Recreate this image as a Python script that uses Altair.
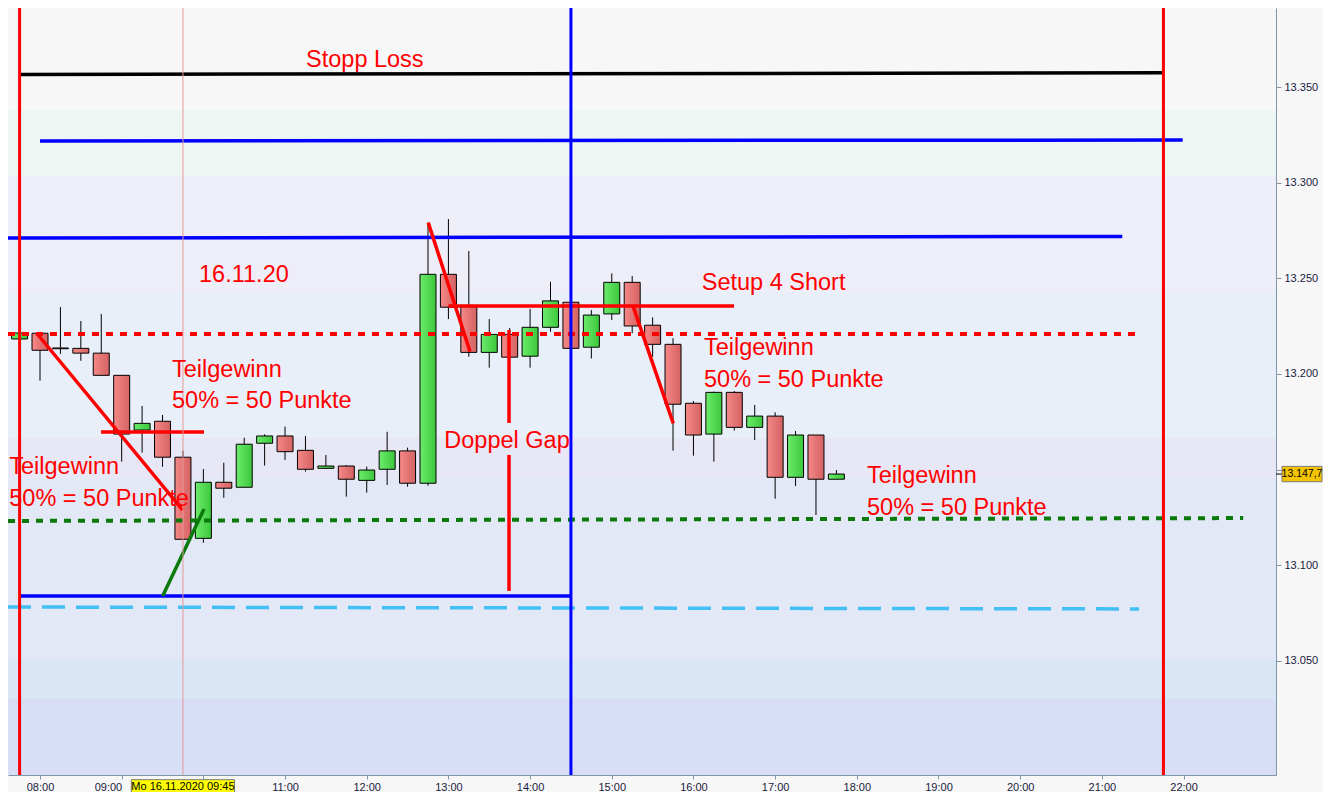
import altair as alt
import pandas as pd

# ---------------- data ----------------
times = ["07:30", "07:45", "08:00", "08:15", "08:30", "08:45", "09:00", "09:15", "09:30", "09:45",
         "10:00", "10:15", "10:30", "10:45", "11:00", "11:15", "11:30", "11:45", "12:00", "12:15",
         "12:30", "12:45", "13:00", "13:15", "13:30", "13:45", "14:00", "14:15", "14:30", "14:45",
         "15:00", "15:15", "15:30", "15:45", "16:00", "16:15", "16:30", "16:45", "17:00", "17:15",
         "17:30", "17:45"]
opens = [13221.4, 13218.3, 13221.3, 13213.6, 13213.4, 13210.9, 13199.3, 13170.7, 13175.3, 13156.5,
         13114.1, 13143.4, 13140.8, 13163.8, 13167.6, 13160.1, 13150.7, 13151.9, 13144.4, 13150.2,
         13159.8, 13142.9, 13252.1, 13235.2, 13211.3, 13220.7, 13209.3, 13224.4, 13237.5, 13214.0,
         13231.4, 13247.9, 13225.5, 13215.5, 13184.7, 13168.6, 13190.4, 13172.1, 13178.0, 13146.0,
         13168.1, 13145.0]
highs = [13222.0, 13222.0, 13222.0, 13235.0, 13227.7, 13231.4, 13199.3, 13183.3, 13178.6, 13159.9,
         13150.3, 13153.6, 13166.7, 13168.5, 13172.5, 13167.6, 13157.7, 13152.4, 13151.6, 13169.8,
         13161.5, 13279.1, 13281.0, 13264.3, 13228.7, 13224.0, 13234.0, 13248.2, 13239.0, 13233.4,
         13252.6, 13251.2, 13229.6, 13218.7, 13185.9, 13190.8, 13191.1, 13183.8, 13180.0, 13170.2,
         13168.1, 13149.8]
lows = [13218.0, 13218.0, 13196.5, 13210.5, 13206.9, 13199.3, 13154.2, 13158.9, 13151.5, 13113.6,
        13111.8, 13135.3, 13140.8, 13152.1, 13155.0, 13149.0, 13150.5, 13135.9, 13138.0, 13142.0,
        13141.1, 13141.6, 13228.7, 13209.0, 13203.3, 13205.0, 13203.3, 13222.1, 13212.0, 13208.1,
        13228.2, 13221.3, 13209.0, 13159.9, 13157.3, 13154.2, 13170.4, 13165.5, 13134.8, 13141.5,
        13126.3, 13145.0]
closes = [13218.3, 13221.4, 13212.4, 13213.2, 13210.9, 13199.3, 13168.6, 13174.2, 13156.5, 13113.6,
          13143.4, 13140.3, 13163.3, 13167.6, 13159.4, 13150.2, 13151.9, 13145.0, 13149.8, 13159.8,
          13142.9, 13252.1, 13234.9, 13211.3, 13220.7, 13208.8, 13224.4, 13238.2, 13213.4, 13230.8,
          13247.9, 13225.1, 13215.5, 13184.2, 13168.1, 13190.4, 13172.1, 13178.0, 13146.0, 13168.1,
          13145.0, 13147.7]

hour_ticks = list(range(8, 23))
price_ticks = [13050, 13100, 13150, 13200, 13250, 13300, 13350]
last_price = 13147.7
last_label = "13.147,7"
cross_time = 9.75
cross_label = "Mo 16.11.2020 09:45"

# background bands (price boundaries, top to bottom)
band_top = [13391.3, 13338.0, 13303.5, 13242.9, 13166.5, 13145.6, 13050.5, 13030.1]
band_bottom = [13338.0, 13303.5, 13242.9, 13166.5, 13145.6, 13050.5, 13030.1, 12990.4]
band_colors = ["#f7f7f7", "#eef6f4", "#eeeef8", "#e9eff8", "#e8e7f6", "#e2e8f6", "#d8e6f6", "#d7def5"]

XMIN, XMAX = 7.6082, 23.132
YMIN, YMAX = 12990.4, 13391.3

# line segments [t1, p1, t2, p2]
black_segs = [[7.75, 13356.6, 21.75, 13357.4]]
blue_segs = [[8.0, 13321.8, 21.99, 13322.3],
             [XMIN, 13271.1, 21.25, 13271.9],
             [7.75, 13084.0, 14.5, 13084.0]]
red_segs = [[13.0, 13235.5, 16.497, 13235.5],
            [8.747, 13169.7, 10.008, 13169.7],
            [7.96, 13221.3, 9.747, 13128.9],
            [12.753, 13279.1, 13.265, 13211.7],
            [15.256, 13236.0, 15.753, 13174.2],
            [13.742, 13223.0, 13.742, 13174.4],
            [13.742, 13157.7, 13.742, 13086.6]]
green_segs = [[9.502, 13084.0, 10.008, 13129.4]]
red_dotted_segs = [[XMIN, 13220.9, 21.49, 13220.9]]
green_dotted_segs = [[XMIN, 13123.2, 22.73, 13124.7]]
lightblue_dashed_segs = [[XMIN, 13078.2, 21.455, 13077.2]]

red_verticals = [7.75, 21.754]
blue_verticals = [14.5]

# annotations: text, time (left edge), price (baseline)
note_text = ["Stopp Loss", "16.11.20", "Setup 4 Short",
             "Teilgewinn", "50% = 50 Punkte",
             "Teilgewinn", "50% = 50 Punkte",
             "Teilgewinn", "50% = 50 Punkte",
             "Doppel Gap",
             "Teilgewinn", "50% = 50 Punkte"]
note_t = [11.257, 9.947, 16.101, 9.616, 9.616, 16.129, 16.129, 7.624, 7.624, 12.95, 18.125, 18.125]
note_p = [13360.5, 13248.1, 13243.9, 13198.6, 13182.1, 13209.9, 13193.4, 13147.6, 13131.0, 13161.2,
          13143.0, 13126.3]

# ---------------- chart ----------------
W, H = 1268, 767
FONT = "Liberation Sans"

xs = alt.Scale(domain=[XMIN, XMAX], nice=False, zero=False, padding=0)
ys = alt.Scale(domain=[YMIN, YMAX], nice=False, zero=False, padding=0)
x_axis = alt.Axis(values=hour_ticks, title=None, grid=False,
                  labelExpr="datum.value == 10 ? '' : (datum.value < 10 ? '0' : '') + datum.value + ':00'",
                  labelAlign={"condition": {"test": "datum.value == 9", "value": "right"}, "value": "center"},
                  domainColor="#7f97a6", tickColor="#7f97a6", tickSize=4,
                  labelFont=FONT, labelFontSize=11, labelColor="#1a1a40",
                  labelPadding=2, labelFlush=False, labelOverlap=False)
y_axis = alt.Axis(orient="right", values=price_ticks, title=None, grid=False,
                  labelExpr="datum.value == 13150 ? '' : replace(format(datum.value, ',d'), ',', '.')",
                  domainColor="#7f97a6", tickColor="#7f97a6", tickSize=5,
                  labelFont=FONT, labelFontSize=11, labelColor="#1a1a40",
                  labelPadding=3, labelFlush=False, labelOverlap=False)


def X(f):
    return alt.X(f, type="quantitative", scale=xs, axis=x_axis)


def Y(f):
    return alt.Y(f, type="quantitative", scale=ys, axis=y_axis)


def to_h(s):
    h, m = s.split(":")
    return int(h) + int(m) / 60.0


candles = pd.DataFrame({"t": [to_h(s) for s in times], "o": opens, "h": highs, "l": lows, "c": closes})
candles["top"] = candles[["o", "c"]].max(axis=1)
candles["bot"] = candles[["o", "c"]].min(axis=1)
up = candles[candles["c"] >= candles["o"]]
down = candles[candles["c"] < candles["o"]]

bands = pd.DataFrame({"x0": XMIN, "x1": XMAX, "y0": band_top, "y1": band_bottom, "col": band_colors})
band_layer = alt.Chart(bands).mark_rect().encode(
    x=X("x0"), x2="x1", y=Y("y0"), y2="y1", fill=alt.Fill("col:N", scale=None))

wicks = alt.Chart(candles).mark_rule(color="black", strokeWidth=1).encode(
    x=X("t"), y=Y("l"), y2="h")

red_fill = {"gradient": "linear", "x1": 0, "x2": 1, "y1": 0, "y2": 0,
            "stops": [{"offset": 0, "color": "#f58888"}, {"offset": 1, "color": "#d46262"}]}
green_fill = {"gradient": "linear", "x1": 0, "x2": 1, "y1": 0, "y2": 0,
              "stops": [{"offset": 0, "color": "#6ceb6c"}, {"offset": 1, "color": "#3cc83c"}]}

down_bodies = alt.Chart(down).mark_bar(size=16, fill=red_fill, stroke="black", strokeWidth=1).encode(
    x=X("t"), y=Y("top"), y2="bot")
up_bodies = alt.Chart(up).mark_bar(size=16, fill=green_fill, stroke="black", strokeWidth=1).encode(
    x=X("t"), y=Y("top"), y2="bot")


def seg_layer(segs, color, width, dash=None):
    df = pd.DataFrame(segs, columns=["t1", "p1", "t2", "p2"])
    kw = dict(color=color, strokeWidth=width, strokeCap="butt")
    if dash is not None:
        kw["strokeDash"] = dash
    return alt.Chart(df).mark_rule(**kw).encode(x=X("t1"), x2="t2", y=Y("p1"), y2="p2")


def vline_layer(ts, color, width):
    return alt.Chart(pd.DataFrame({"t": ts})).mark_rule(color=color, strokeWidth=width).encode(x=X("t"))


cross = vline_layer([cross_time], "#e59a9a", 1)

lines = [
    seg_layer(red_dotted_segs, "#ff0000", 4, [7, 7]),
    seg_layer(green_dotted_segs, "#0b7a0b", 4, [7, 7]),
    seg_layer(lightblue_dashed_segs, "#42bff5", 3.5, [23, 11]),
    seg_layer(black_segs, "#000000", 3.5),
    seg_layer(blue_segs, "#0000ff", 3.5),
    seg_layer(red_segs, "#ff0000", 3.5),
    seg_layer(green_segs, "#0b7a0b", 3.5),
    vline_layer(red_verticals, "#ff0000", 3),
    vline_layer(blue_verticals, "#0000ff", 3),
]

notes = pd.DataFrame({"t": note_t, "p": note_p, "txt": note_text})
note_layer = alt.Chart(notes).mark_text(
    align="left", baseline="alphabetic", font=FONT, fontSize=23.5, color="#ff0000").encode(
    x=X("t"), y=Y("p"), text="txt:N")

# last price marker on the right axis
lp = pd.DataFrame({"p": [last_price], "pt": [last_price + 4.0], "pb": [last_price - 4.0], "lbl": [last_label]})
lp_tick = alt.Chart(lp).mark_rule(color="black", strokeWidth=1).encode(
    x=alt.value(W), x2=alt.value(W + 6), y=Y("p"))
lp_box = alt.Chart(lp).mark_rect(fill="#f5c400", stroke="#7a7a7a", strokeWidth=1).encode(
    x=alt.value(W + 6), x2=alt.value(W + 46), y=Y("pt"), y2="pb")
lp_text = alt.Chart(lp).mark_text(font=FONT, fontSize=10.5, color="black", align="center",
                                  baseline="middle").encode(
    x=alt.value(W + 26), y=Y("p"), text="lbl:N")

# crosshair date label on the time axis
cb = pd.DataFrame({"t": [cross_time], "t0": [cross_time - 0.632], "t1": [cross_time + 0.632],
                   "lbl": [cross_label]})
cb_box = alt.Chart(cb).mark_rect(fill="#ffff00", stroke="#7a7a7a", strokeWidth=1).encode(
    x=X("t0"), x2="t1", y=alt.value(H + 4.7), y2=alt.value(H + 18.7))
cb_text = alt.Chart(cb).mark_text(font=FONT, fontSize=11, color="black", align="center",
                                  baseline="middle").encode(
    x=X("t"), y=alt.value(H + 12), text="lbl:N")

chart = alt.layer(
    band_layer, wicks, down_bodies, up_bodies, *lines, cross, note_layer,
    lp_tick, lp_box, lp_text, cb_box, cb_text
).properties(
    width=W, height=H,
    autosize=alt.AutoSizeParams(type="none"),
    padding={"left": 0, "top": 0, "right": 47, "bottom": 17},
    background="#f7f7f7",
).configure_view(stroke=None)

chart.save("out.html", embed_options={"renderer": "svg", "actions": False})
